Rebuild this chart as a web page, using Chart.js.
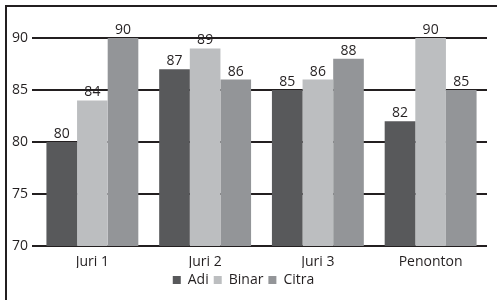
<!DOCTYPE html>
<html>
<head>
<meta charset="utf-8">
<script src="https://cdn.jsdelivr.net/npm/chart.js@4/dist/chart.umd.min.js"></script>
<style>
  html, body { margin: 0; padding: 0; background: #fff; }
  #wrap { position: relative; width: 497px; height: 300px; }
</style>
</head>
<body>
<div id="wrap"><canvas id="nilaiChart" width="497" height="300"></canvas></div>
<script>
// kategori penilai dan nilai tiap peserta
const categories = ["Juri 1", "Juri 2", "Juri 3", "Penonton"];
const adi   = [80, 87, 85, 82];
const binar = [84, 89, 86, 90];
const citra = [90, 86, 88, 85];
const yTicks = [70, 75, 80, 85, 90];

const fontFamily = "'Open Sans', 'Noto Sans', sans-serif";
const ink = "#231f20";

// angka di atas tiap batang
const barLabels = {
    id: "barLabels",
    afterDatasetsDraw(chart) {
        const ctx = chart.ctx;
        ctx.save();
        ctx.font = `14px ${fontFamily}`;
        ctx.fillStyle = ink;
        ctx.textAlign = "center";
        ctx.textBaseline = "bottom";
        chart.data.datasets.forEach((ds, i) => {
            chart.getDatasetMeta(i).data.forEach((bar, j) => {
                ctx.fillText(ds.data[j], bar.x, bar.y - 1);
            });
        });
        ctx.restore();
    }
};

// garis tepi atas dan kiri
const frame = {
    id: "frame",
    afterDraw(chart) {
        const ctx = chart.ctx;
        ctx.save();
        ctx.strokeStyle = ink;
        ctx.lineWidth = 2;
        ctx.beginPath();
        ctx.moveTo(6, chart.height);
        ctx.lineTo(6, 6);
        ctx.lineTo(chart.width, 6);
        ctx.stroke();
        ctx.restore();
    }
};

const ctx = document.getElementById("nilaiChart").getContext("2d");
new Chart(ctx, {
    type: "bar",
    data: {
        labels: categories,
        datasets: [
            { label: "Adi",   data: adi,   backgroundColor: "#58595b" },
            { label: "Binar", data: binar, backgroundColor: "#bcbec0" },
            { label: "Citra", data: citra, backgroundColor: "#939598" }
        ]
    },
    options: {
        responsive: false,
        animation: false,
        devicePixelRatio: 1,
        categoryPercentage: 0.815,
        barPercentage: 1,
        layout: { padding: { top: 38, right: 10, bottom: 3, left: 0 } },
        plugins: {
            tooltip: { enabled: false },
            legend: {
                position: "bottom",
                labels: {
                    boxWidth: 8,
                    boxHeight: 8,
                    padding: 5,
                    color: ink,
                    font: { family: fontFamily, size: 14 }
                }
            }
        },
        scales: {
            x: {
                grid: { display: false },
                border: { display: false },
                ticks: { color: ink, padding: 0, font: { family: fontFamily, size: 14 } },
                afterFit(scale) { scale.height = 22; }
            },
            y: {
                min: 70,
                max: 90,
                afterBuildTicks(scale) { scale.ticks = yTicks.map(v => ({ value: v })); },
                grid: { color: ink, lineWidth: 2, tickLength: 4 },
                border: { display: false },
                ticks: { color: ink, padding: 4, font: { family: fontFamily, size: 14 } },
                afterFit(scale) { scale.width = 36; }
            }
        }
    },
    plugins: [barLabels, frame]
});
</script>
</body>
</html>
